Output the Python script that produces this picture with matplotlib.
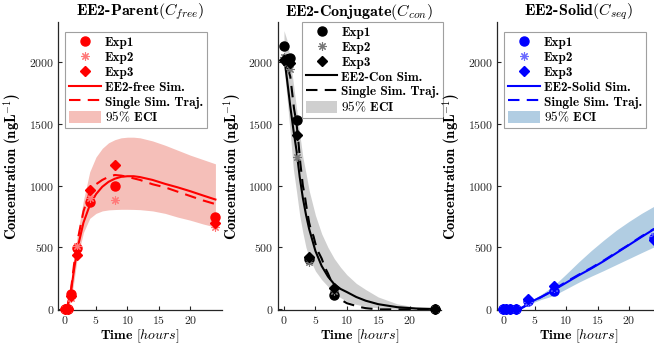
import numpy as np
import matplotlib
matplotlib.use('Agg')
import matplotlib.pyplot as plt

plt.rcParams['mathtext.fontset'] = 'cm'
plt.rcParams['axes.formatter.use_mathtext'] = True
plt.rcParams['font.family'] = 'cmr10'

# OBSERVED DATA (hours, ngL^-1)
t_obs = [0, 0.5, 1, 2, 4, 8, 24]

free_exp1 = [0, 0, 126, 497, 865, 1000, 745]
free_exp2 = [0, 0, 88, 510, 900, 887, 664]
free_exp3 = [0, 0, 112, 435, 965, 1167, 696]

con_exp1 = [2130, 2000, 2030, 1530, 410, 120, 0]
con_exp2 = [2040, 1990, 1940, 1230, 385, 150, 0]
con_exp3 = [2010, 2020, 1990, 1410, 420, 175, 0]

seq_exp1 = [0, 0, 0, 0, 70, 150, 575]
seq_exp2 = [0, 0, 0, 0, 60, 170, 590]
seq_exp3 = [0, 0, 0, 0, 82, 185, 560]

# SIMULATED CURVES
t_free = [0, 0.5, 1, 1.5, 2, 3, 4, 5, 6, 7, 8, 9, 10, 11, 12, 14, 16, 18, 20, 22, 24]
free_mean = [0, 30, 140, 320, 480, 700, 840, 930, 990, 1030, 1055, 1070, 1075, 1075, 1068,
             1045, 1013, 985, 954, 920, 887]
free_hi = [0, 40, 200, 400, 590, 880, 1110, 1230, 1300, 1345, 1370, 1385, 1390, 1390, 1385,
           1360, 1325, 1285, 1245, 1210, 1175]
free_lo = [0, 10, 70, 230, 410, 620, 735, 775, 795, 803, 806, 808, 808, 807, 805,
           795, 775, 745, 720, 690, 664]
t_free_traj = [0, 0.5, 1, 1.5, 2, 3, 4, 5, 6, 7, 8, 9, 10, 12, 14, 16, 18, 20, 22, 24]
free_traj = [0, 40, 150, 360, 540, 790, 950, 1010, 1045, 1070, 1085, 1080, 1070, 1045,
             1010, 985, 950, 915, 880, 850]

t_con = [0, 0.5, 1, 1.5, 2, 2.5, 3, 3.5, 4, 5, 6, 7, 8, 9, 10, 11.5, 13, 15, 18, 21, 24]
con_mean = [2050, 1850, 1640, 1450, 1280, 1070, 900, 765, 650, 472, 350, 265, 203, 165, 140,
            100, 70, 42, 18, 7, 3]
con_hi = [2250, 2170, 2020, 1820, 1620, 1420, 1230, 1100, 960, 760, 610, 500, 410, 340, 280,
          210, 160, 100, 45, 18, 8]
con_lo = [1950, 1700, 1420, 1130, 950, 760, 620, 500, 420, 310, 240, 185, 130, 95, 65,
          40, 25, 12, 4, 2, 1]
t_con_traj = [0, 0.3, 0.6, 1, 1.3, 1.6, 2, 2.3, 2.6, 3, 3.3, 3.6, 4, 4.3, 4.7, 5, 5.5, 6,
              6.5, 7, 7.5, 8, 8.5, 9, 10, 11, 12, 13, 14, 15, 24]
con_traj = [2000, 2050, 1950, 1880, 1750, 1620, 1500, 1350, 1180, 1000, 920, 820, 700, 640,
            590, 530, 460, 410, 340, 290, 230, 150, 110, 80, 50, 35, 20, 10, 5, 0, 0]

t_seq = [0, 1, 2, 3, 4, 5, 6, 7, 8, 10, 12, 14, 16, 18, 20, 22, 24]
seq_mean = [0, 0, 0, 15, 45, 75, 100, 125, 155, 215, 275, 330, 390, 455, 520, 585, 648]
seq_hi = [0, 0, 0, 20, 55, 90, 120, 155, 190, 285, 383, 475, 560, 640, 710, 775, 833]
seq_lo = [0, 0, 0, 10, 35, 60, 80, 95, 112, 165, 219, 268, 314, 362, 410, 458, 505]
seq_traj = [0, 0, 0, 12, 42, 72, 98, 128, 160, 222, 280, 335, 395, 460, 522, 590, 650]

panels = [
    dict(title=r'EE2-Parent$(C_{free})$', sim='EE2-free Sim.', c='#ff0000', c2='#ff7a7a',
         band='#f5bfb9', exps=(free_exp1, free_exp2, free_exp3),
         t=t_free, mean=free_mean, hi=free_hi, lo=free_lo, tt=t_free_traj, traj=free_traj,
         left=58.3, leg=(0.041, 0.965)),
    dict(title=r'EE2-Conjugate$(C_{con})$', sim='EE2-Con Sim.', c='#000000', c2='#777777',
         band='#cfcfcf', exps=(con_exp1, con_exp2, con_exp3),
         t=t_con, mean=con_mean, hi=con_hi, lo=con_lo, tt=t_con_traj, traj=con_traj,
         left=277.7, leg=(0.147, 1.0)),
    dict(title=r'EE2-Solid$(C_{seq})$', sim='EE2-Solid Sim.', c='#0000ff', c2='#6a6aff',
         band='#b1cde2', exps=(seq_exp1, seq_exp2, seq_exp3),
         t=t_seq, mean=seq_mean, hi=seq_hi, lo=seq_lo, tt=t_seq, traj=seq_traj,
         left=497.0, leg=(0.043, 0.965)),
]

W, H = 654, 352
fig = plt.figure(figsize=(W / 100, H / 100), dpi=100)

for p in panels:
    ax = fig.add_axes([p['left'] / W, 1 - 310 / H, 163.4 / W, 288 / H])
    ax.set_facecolor('none')
    c = p['c']
    e1, e2, e3 = p['exps']
    h1, = ax.plot(t_obs, e1, 'o', color=c, ms=6.5, ls='none', clip_on=False, zorder=5)
    h2, = ax.plot(t_obs, e2, marker=(8, 2, 0), color=p['c2'], ms=6, mew=0.8, ls='none',
                  clip_on=False, zorder=5)
    h3, = ax.plot(t_obs, e3, 'D', color=c, ms=5.5, ls='none', clip_on=False, zorder=5)
    h4, = ax.plot(p['t'], p['mean'], '-', color=c, lw=1.5, zorder=4)
    h5, = ax.plot(p['tt'], p['traj'], color=c, lw=1.5, ls=(0, (5.5, 3.5)), zorder=4)
    h6 = ax.fill_between(p['t'], p['lo'], p['hi'], color=p['band'], lw=0, zorder=1)

    ax.set_xlim(-1, 25)
    ax.set_ylim(-5, 2320)
    ax.set_xticks([0, 5, 10, 15, 20])
    ax.set_yticks([0, 500, 1000, 1500, 2000])
    for s in ['top', 'right']:
        ax.spines[s].set_visible(False)
    for s in ['left', 'bottom']:
        ax.spines[s].set_linewidth(0.9)
        ax.spines[s].set_color('#262626')
    ax.tick_params(direction='in', length=3, width=0.8, labelsize=8.5, colors='#262626', pad=3)

    ax.set_title(p['title'], family='cmb10', fontsize=11.5, pad=3)
    ax.set_xlabel(r'Time $[hours]$', family='cmb10', fontsize=10, labelpad=1)
    ax.set_ylabel(r'Concentration (ngL$^{-1}$)', family='cmb10', fontsize=10.5, labelpad=4)

    leg = ax.legend([h1, h2, h3, h4, h5, h6],
                    ['Exp1', 'Exp2', 'Exp3', p['sim'], 'Single Sim. Traj.', r'$\mathrm{95\%}$ ECI'],
                    loc='upper left', bbox_to_anchor=p['leg'], borderaxespad=0,
                    prop=dict(family='cmb10', size=9.5), numpoints=1, handlelength=2.4,
                    handleheight=0.95, handletextpad=0.3, labelspacing=0.12, borderpad=0.3,
                    fancybox=False, edgecolor='#a0a0a0', framealpha=1)
    leg.get_frame().set_linewidth(0.8)
    leg.set_zorder(10)

fig.savefig('out.png', dpi=100)
